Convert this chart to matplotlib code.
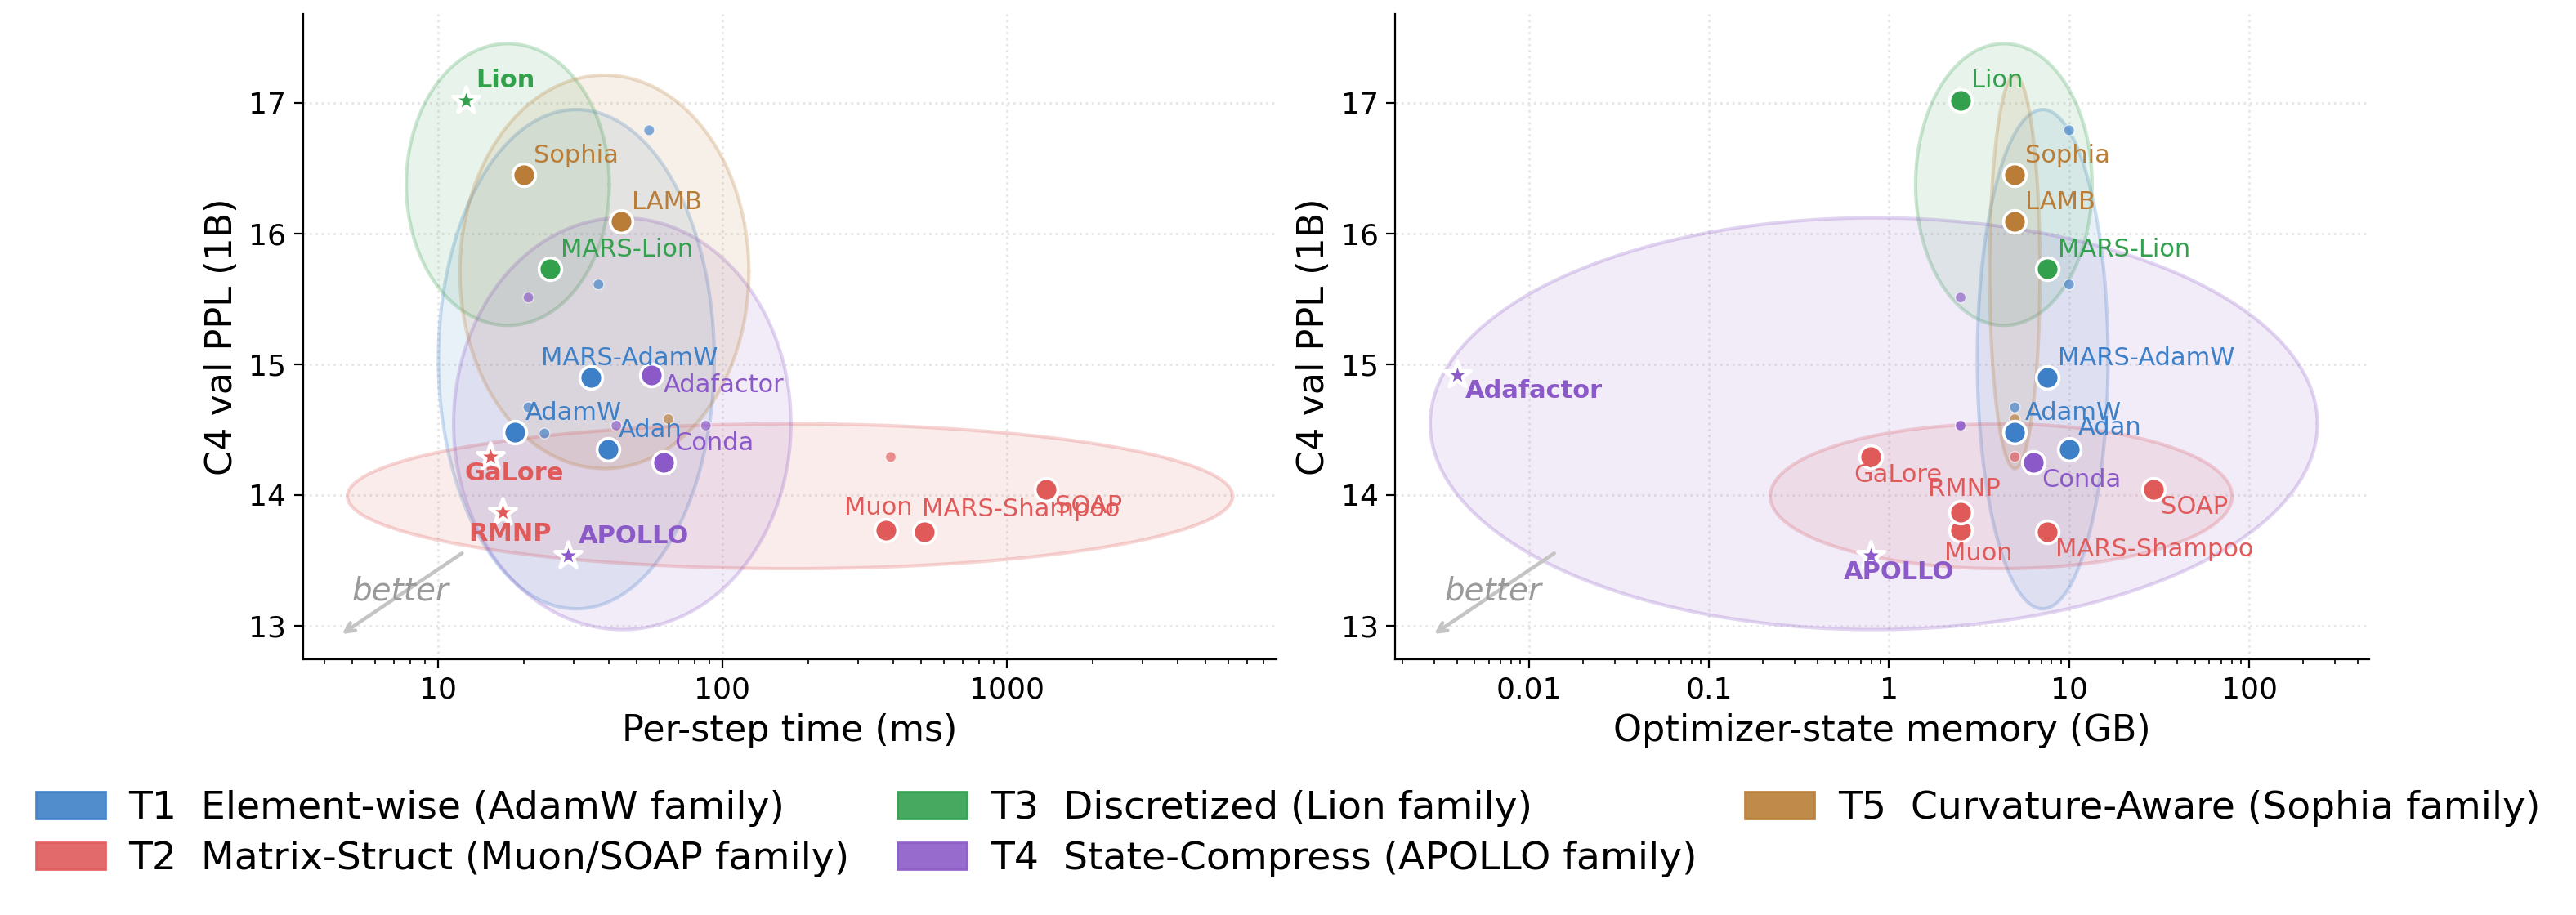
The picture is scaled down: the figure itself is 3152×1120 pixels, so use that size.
import numpy as np
import matplotlib
matplotlib.use("Agg")
import matplotlib.pyplot as plt
from matplotlib.patches import Patch
from matplotlib.ticker import FuncFormatter, NullFormatter, FixedLocator

# ---- data ----
names = ["AdamW", "MARS-AdamW", "Adan",
         "Muon", "MARS-Shampoo", "SOAP", "GaLore", "RMNP",
         "Lion", "MARS-Lion",
         "Adafactor", "Conda", "APOLLO",
         "Sophia", "LAMB"]
tiers = [1, 1, 1, 2, 2, 2, 2, 2, 3, 3, 4, 4, 4, 5, 5]
step_ms = [18.6, 34.6, 39.6, 377, 513, 1371, 15.3, 16.9, 12.5, 24.8, 56.4, 62.2, 28.6, 20.0, 44.1]
state_gb = [5.0, 7.55, 10.0, 2.5, 7.55, 29.5, 0.79, 2.5, 2.5, 7.55, 0.004, 6.35, 0.79, 5.0, 5.0]
ppl = [14.48, 14.90, 14.35, 13.73, 13.72, 14.04, 14.29, 13.87, 17.02, 15.73, 14.915, 14.25, 13.535, 16.45, 16.09]

# unlabeled variants (small dots)
extra_tiers = [1, 1, 1, 1, 4, 4, 4, 5, 2]
extra_ms = [55.3, 36.7, 20.8, 23.7, 20.8, 42.4, 87.5, 64.6, 391]
extra_gb = [10.0, 10.0, 5.0, 5.0, 2.5, 2.5, 2.5, 5.0, 5.0]
extra_ppl = [16.79, 15.61, 14.67, 14.47, 15.51, 14.53, 14.53, 14.58, 14.29]

tier_labels = ["T1  Element-wise (AdamW family)",
               "T2  Matrix-Struct (Muon/SOAP family)",
               "T3  Discretized (Lion family)",
               "T4  State-Compress (APOLLO family)",
               "T5  Curvature-Aware (Sophia family)"]

# tier spread (half-axes of the shaded ellipses): decades in x, PPL in y
ell_half_ms = [0.485, 1.556, 0.357, 0.593, 0.508]
ell_half_gb = [0.363, 1.282, 0.49, 2.463, 0.14]
ell_half_ppl = [1.91, 0.554, 1.078, 1.575, 1.505]

colors = {1: "#3E80C8", 2: "#E05A5A", 3: "#33A04E", 4: "#8C5AC8", 5: "#BA7D37"}

# label placement (offset points, ha, va)
DEF = (4.6, 3.3, "left", "bottom")
offs_time = {
    "MARS-AdamW": (-22, 3.3, "left", "bottom"),
    "Adafactor": (5.2, 1.0, "left", "top"),
    "GaLore": (-11.5, -2.0, "left", "top"),
    "RMNP": (-15, -4.3, "left", "top"),
    "Muon": (-18.7, 4.7, "left", "bottom"),
    "MARS-Shampoo": (-1, 4.7, "left", "bottom"),
    "SOAP": (4, -2.0, "left", "top"),
}
offs_mem = {
    "Adafactor": (3.6, -1.5, "left", "top"),
    "APOLLO": (-12, -2.0, "left", "top"),
    "GaLore": (-7.5, -2.8, "left", "top"),
    "RMNP": (-14.4, 5.0, "left", "bottom"),
    "Muon": (-7.2, -5.0, "left", "top"),
    "MARS-Shampoo": (3.6, -2.6, "left", "top"),
    "SOAP": (3.0, -2.3, "left", "top"),
    "Conda": (3.6, -2.6, "left", "top"),
    "Adan": (4.0, 4.3, "left", "bottom"),
}


def pareto(xs, ys):
    flags = []
    for i in range(len(xs)):
        dom = False
        for j in range(len(xs)):
            if j == i:
                continue
            if xs[j] <= xs[i] and ys[j] <= ys[i] and (xs[j] < xs[i] or ys[j] < ys[i]):
                dom = True
        flags.append(not dom)
    return flags


def panel(ax, xs, exs, halfw, xlabel, xlim, offs):
    t = np.linspace(0, 2 * np.pi, 300)
    # tier ellipses centred on the tier mean (log x, y)
    for k in range(1, 6):
        lx = [np.log10(x) for x, tt in zip(xs, tiers) if tt == k] + \
             [np.log10(x) for x, tt in zip(exs, extra_tiers) if tt == k]
        yy = [y for y, tt in zip(ppl, tiers) if tt == k] + \
             [y for y, tt in zip(extra_ppl, extra_tiers) if tt == k]
        cx, cy = np.mean(lx), np.mean(yy)
        ex = 10 ** (cx + halfw[k - 1] * np.cos(t))
        ey = cy + ell_half_ppl[k - 1] * np.sin(t)
        ax.fill(ex, ey, facecolor=colors[k], alpha=0.11, zorder=1, lw=0)
        ax.plot(ex, ey, color=colors[k], alpha=0.25, lw=1.5, zorder=1)

    # small dots
    ax.scatter(exs, extra_ppl, s=22, c=[colors[k] for k in extra_tiers], alpha=0.65,
               edgecolors="white", linewidths=0.5, zorder=3)

    front = pareto(xs, ppl)
    for i, name in enumerate(names):
        c = colors[tiers[i]]
        if front[i]:
            ax.scatter(xs[i], ppl[i], s=150, marker="*", c=c, edgecolors="white",
                       linewidths=1.6, zorder=4)
        else:
            ax.scatter(xs[i], ppl[i], s=100, c=c, edgecolors="white",
                       linewidths=1.3, zorder=4)
        dx, dy, ha, va = offs.get(name, DEF)
        ax.annotate(name, (xs[i], ppl[i]), xytext=(dx, dy), textcoords="offset points",
                    ha=ha, va=va, color=c, fontsize=11,
                    fontweight="bold" if front[i] else "normal", zorder=5)

    ax.set_xscale("log")
    ax.set_xlim(*xlim)
    ax.set_ylim(12.744, 17.68)
    ax.yaxis.set_major_locator(FixedLocator([13, 14, 15, 16, 17]))
    ax.xaxis.set_major_formatter(FuncFormatter(lambda v, p: f"{v:g}"))
    ax.xaxis.set_minor_formatter(NullFormatter())
    ax.grid(True, which="major", linestyle=":", linewidth=1.0, color="#e6e6e6")
    ax.set_axisbelow(True)
    for s in ["top", "right"]:
        ax.spines[s].set_visible(False)
    ax.tick_params(axis="both", which="major", labelsize=13, length=4)
    ax.tick_params(axis="both", which="minor", length=2)
    ax.set_xlabel(xlabel, fontsize=16)
    ax.set_ylabel("C4 val PPL (1B)", fontsize=16)

    # "better" hint
    ax.annotate("", xy=(0.036, 0.035), xytext=(0.167, 0.168), xycoords="axes fraction",
                arrowprops=dict(arrowstyle="->", color="#c4c4c4", lw=1.6), zorder=2)
    ax.text(0.10, 0.105, "better", transform=ax.transAxes, style="italic",
            color="#9a9a9a", fontsize=14, ha="center", va="center", zorder=2)


fig = plt.figure(figsize=(15.76, 5.6), dpi=200)
ax1 = fig.add_axes([0.1177, 0.2797, 0.3779, 0.7051])
ax2 = fig.add_axes([0.5417, 0.2797, 0.3779, 0.7051])

panel(ax1, step_ms, extra_ms, ell_half_ms, "Per-step time (ms)", (3.36, 8890), offs_time)
panel(ax2, state_gb, extra_gb, ell_half_gb, "Optimizer-state memory (GB)", (0.00182, 462), offs_mem)

handles = [Patch(facecolor=colors[k], edgecolor=colors[k], alpha=0.9) for k in range(1, 6)]
fig.legend(handles, tier_labels, loc="center", bbox_to_anchor=(0.5, 0.0887), ncol=3,
           frameon=False, fontsize=17, handlelength=1.8, handleheight=0.7,
           handletextpad=0.6, columnspacing=1.25, labelspacing=0.35)

fig.savefig("out.png", dpi=200)
